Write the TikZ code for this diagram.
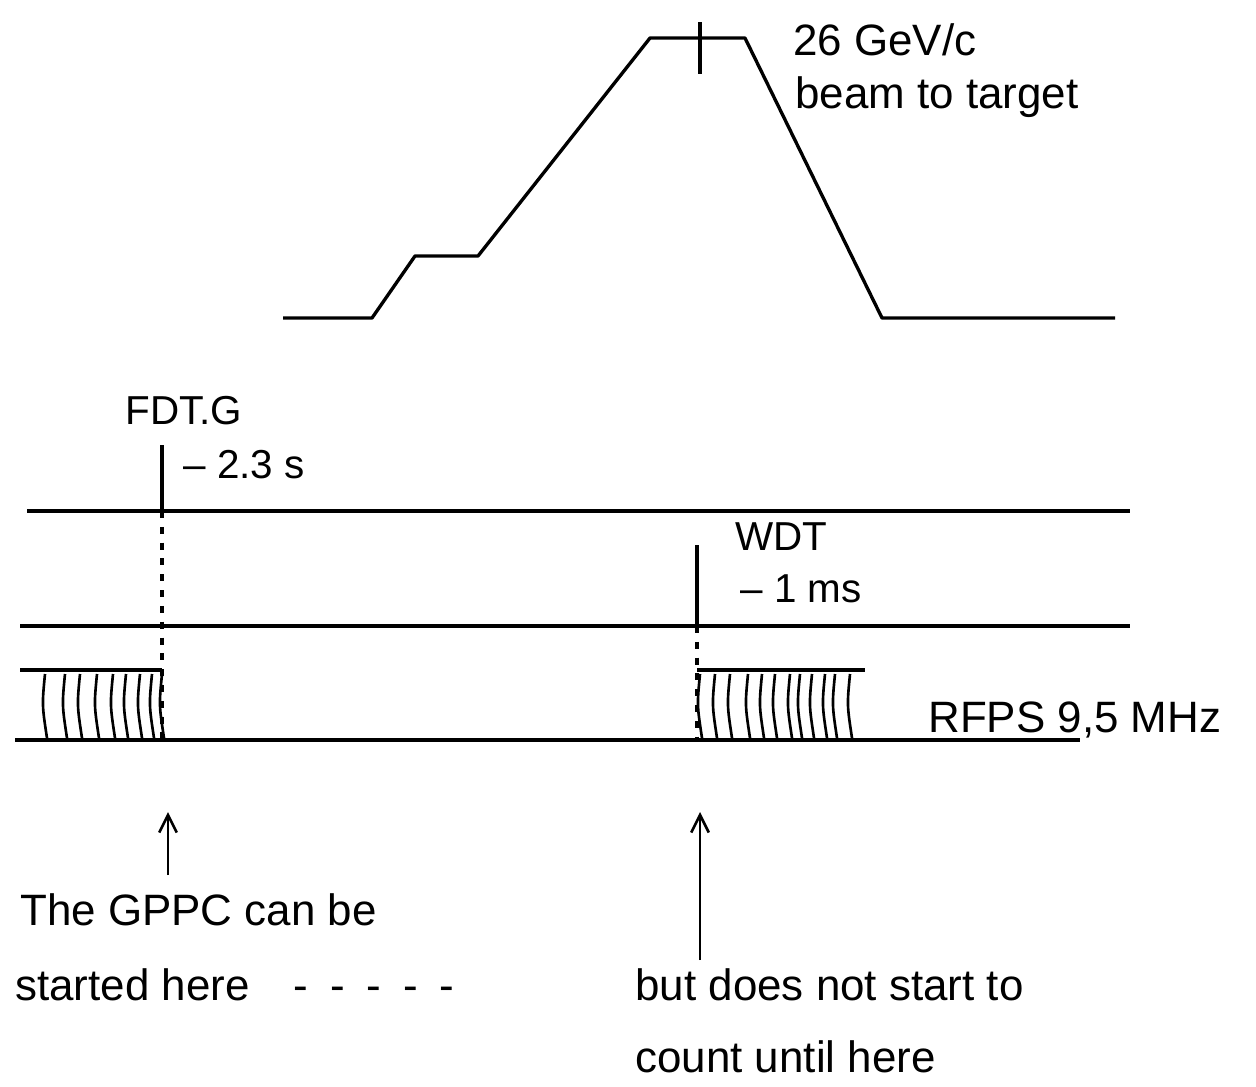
\documentclass[tikz,border=0pt]{standalone}
\usepackage{fontspec}
\setmainfont{Liberation Sans}
\usepackage{tikz}
\usetikzlibrary{arrows.meta,positioning,calc}
\tikzset{
  trace/.style={draw, line width=1.9pt, line join=round},
  marker/.style={draw, line width=1.9pt},
  guide/.style={draw, line width=1.9pt, dash pattern=on 4pt off 5pt},
  pulse/.style={draw, line width=1.5pt},
  note/.style={anchor=base west, inner sep=0pt, font=\fontsize{25}{30}\selectfont},
  tlabel/.style={anchor=base west, inner sep=0pt, font=\fontsize{23}{27}\selectfont},
  arrow/.style={-{Straight Barb[length=10pt, width=10pt]}, line width=1.5pt}
}

\begin{document}
\begin{tikzpicture}[x=0.02cm, y=-0.02cm]
  \useasboundingbox (0,0) rectangle (1256,1086);

  % magnet cycle
  \draw[trace] (283,318) -- (372,318) -- (415,256) -- (478,256) -- (650,38)
    -- (745,38) -- (882,318) -- (1115,318);
  \coordinate (flattop) at (700,38);
  \draw[marker] ($(flattop)+(0,-16)$) -- ($(flattop)+(0,36)$);
  \node[note] (gev) at (793,55) {26 GeV/c};
  \node[note] (beam) at (795,108) {beam to target};

  % timing lines
  \coordinate (fdt) at (162,511);
  \coordinate (wdt) at (697,626);
  \draw[trace] (27,511) -- (1130,511);
  \draw[trace] (20,626) -- (1130,626);
  \draw[marker] (162,445) -- (fdt);
  \node[tlabel] (fdtg) at (125,424) {FDT.G};
  \node[tlabel] (fdtt) at (183,478) {-- 2.3 s};
  \draw[marker] (697,545) -- (wdt);
  \node[tlabel] (wdtg) at (735,550) {WDT};
  \node[tlabel] (wdtt) at (740,602) {-- 1 ms};
  \draw[guide] (fdt) -- (162,740);
  \draw[guide] (wdt) -- (697,740);

  % RF bursts
  \draw[trace] (15,740) -- (1080,740);
  \draw[trace] (20,670) -- (162,670);
  \draw[trace] (697,670) -- (865,670);
  \foreach \x in {45,65,80,97,113,126,140,152,162}
    \draw[pulse] (\x,674) .. controls (\x-3,705) .. (\x+2,738);
  \foreach \x in {700,715,730,748,762,775,790,800,812,825,835,850}
    \draw[pulse] (\x,674) .. controls (\x-3,705) .. (\x+2,738);
  \node[note] (rfps) at (928,732) {RFPS 9,5 MHz};

  % remarks
  \node[note] (gppc) at (20,925) {The GPPC can be};
  \node[note] (here) at (15,1000) {started here\quad -\enspace -\enspace -\enspace -\enspace -};
  \node[note] (count) at (635,1000) {but does not start to};
  \node[note] (until) at (635,1072) {count until here};
  \coordinate (start) at (168,812);
  \coordinate (stop) at (700,812);
  \coordinate (starttail) at (168,875);
  \coordinate (stoptail) at (700,960);
  \draw[arrow] (starttail) -- (start);
  \draw[arrow] (stoptail) -- (stop);
\end{tikzpicture}
\end{document}
